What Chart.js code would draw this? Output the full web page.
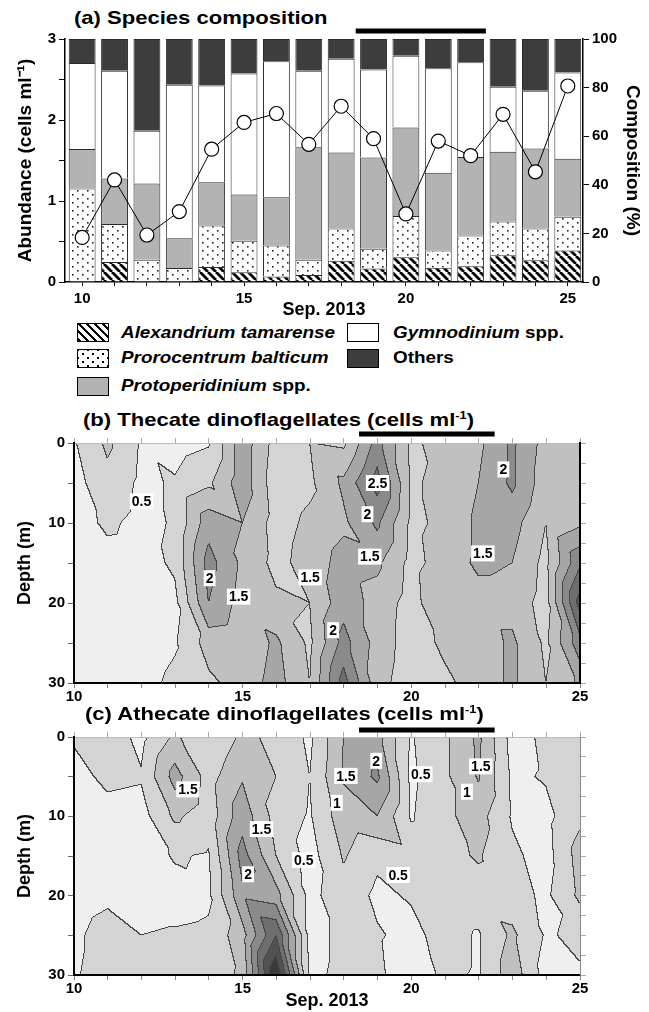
<!DOCTYPE html>
<html>
<head>
<meta charset="utf-8">
<script src="https://cdn.jsdelivr.net/npm/chart.js@4.4.1/dist/chart.umd.min.js"></script>
<style>
  body { margin:0; width:649px; height:1012px; position:relative; overflow:hidden; background:#fff; font-family:"Liberation Sans", Arial, sans-serif; color:#000; }
  canvas { position:absolute; left:0; }
  .title { position:absolute; font-size:19px; font-weight:bold; line-height:20px; white-space:nowrap; transform:scaleX(1.16); transform-origin:0 50%; }
  .title sup { font-size:11px; vertical-align:7px; line-height:0; }
  .sw { position:absolute; width:32px; height:19px; border:1.5px solid #000; box-sizing:border-box; }
  .lt { position:absolute; font-size:17px; font-weight:bold; line-height:20px; white-space:nowrap; transform:scaleX(1.11); transform-origin:0 50%; }
  .lt i { font-style:italic; }
  .hatch { background:repeating-linear-gradient(45deg, #000 0 2.6px, #fff 2.6px 5.66px); }
  .dots { background-color:#fff; background-image:radial-gradient(circle, #000 0.9px, transparent 1.3px), radial-gradient(circle, #000 0.9px, transparent 1.3px); background-size:10px 8px; background-position:0 0, 5px 4px; }
</style>
</head>
<body>
<div class="title" style="left:74px;top:8px">(a) Species composition</div>
<canvas id="chartA" width="649" height="321" style="top:0"></canvas>

<div class="sw hatch" style="left:77px;top:323px"></div>
<div class="lt" style="left:121px;top:323px"><i>Alexandrium tamarense</i></div>
<div class="sw" style="left:347px;top:323px;background:#fff"></div>
<div class="lt" style="left:393px;top:323px"><i>Gymnodinium</i> spp.</div>
<div class="sw dots" style="left:77px;top:349px"></div>
<div class="lt" style="left:121px;top:348px"><i>Prorocentrum balticum</i></div>
<div class="sw" style="left:347px;top:349px;background:#3d3d3d"></div>
<div class="lt" style="left:393px;top:348px">Others</div>
<div class="sw" style="left:77px;top:377px;background:#b3b3b3"></div>
<div class="lt" style="left:121px;top:376px"><i>Protoperidinium</i> spp.</div>

<div class="title" style="left:83px;top:410px">(b) Thecate dinoflagellates (cells ml<sup>-1</sup>)</div>
<canvas id="chartB" width="649" height="305" style="top:400px"></canvas>
<div class="title" style="left:85px;top:704px">(c) Athecate dinoflagellates (cells ml<sup>-1</sup>)</div>
<canvas id="chartC" width="649" height="312" style="top:700px"></canvas>

<script>
// ---- data ----
const days = [10, 11, 12, 13, 14, 15, 16, 17, 18, 19, 20, 21, 22, 23, 24, 25];

// composition (%) of each group
const alexandrium     = [0, 8.2, 0, 0, 6.2, 4.0, 2.3, 2.9, 8.7, 5.6, 10.2, 5.9, 6.5, 11.0, 8.9, 13.0];
const prorocentrum    = [38.5, 15.7, 9.2, 5.8, 17.1, 13.0, 12.7, 6.3, 13.3, 8.1, 17.0, 7.1, 12.6, 13.9, 13.1, 13.9];
const protoperidinium = [16.2, 18.7, 31.3, 12.2, 17.8, 19.0, 19.9, 46.3, 31.3, 37.5, 36.4, 32.0, 32.3, 28.7, 32.9, 23.8];
const gymnodinium     = [35.4, 44.3, 21.7, 63.2, 39.8, 49.8, 55.9, 31.4, 38.6, 36.3, 29.5, 43.0, 39.0, 26.7, 23.8, 35.5];
const others          = [9.9, 13.1, 37.8, 18.8, 19.1, 14.2, 9.2, 13.1, 8.1, 12.5, 6.9, 12.0, 9.6, 19.7, 21.3, 13.8];

// abundance (cells ml-1), line
const abundance = [0.55, 1.26, 0.58, 0.87, 1.64, 1.97, 2.08, 1.70, 2.17, 1.77, 0.84, 1.74, 1.56, 2.07, 1.36, 2.42];

// the black bar period above each panel
const periodStart = 18.45;
const periodEnd = 22.47;

// depth profiles: one row per day, values at these depths (m)
const depths = [0, 5, 10, 15, 20, 25, 30];
const thecate = [
  [0.45, 0.3, 0.25, 0.2, 0.2, 0.2, 0.2],
  [1.1, 0.85, 0.6, 0.3, 0.2, 0.2, 0.25],
  [0.45, 0.4, 0.35, 0.25, 0.2, 0.25, 0.35],
  [0.3, 0.55, 0.55, 0.6, 0.35, 0.45, 0.6],
  [0.45, 0.9, 1.8, 2.2, 2.0, 1.2, 0.9],
  [1.8, 1.8, 1.5, 1.4, 1.3, 1.1, 1.2],
  [0.8, 0.7, 0.8, 0.85, 1.1, 1.6, 1.7],
  [1.0, 0.9, 1.1, 1.2, 1.0, 0.9, 1.0],
  [0.9, 1.6, 1.4, 1.7, 1.8, 2.2, 2.7],
  [2.2, 2.7, 2.1, 1.6, 1.3, 1.3, 1.2],
  [0.9, 0.95, 0.9, 0.85, 0.8, 0.75, 0.7],
  [1.2, 1.1, 1.1, 1.2, 1.45, 1.1, 0.9],
  [1.4, 1.5, 1.6, 1.6, 1.3, 1.2, 1.2],
  [2.1, 2.1, 1.7, 1.5, 1.3, 1.6, 1.6],
  [1.3, 1.2, 1.0, 0.85, 0.8, 0.9, 1.0],
  [1.2, 1.4, 1.4, 2.4, 3.2, 2.3, 1.6]
];
const athecate = [
  [0.55, 0.35, 0.25, 0.2, 0.25, 0.4, 0.45],
  [0.8, 0.6, 0.35, 0.25, 0.4, 0.7, 0.7],
  [0.35, 0.55, 0.3, 0.25, 0.3, 0.5, 0.5],
  [1.1, 1.7, 1.1, 0.55, 0.3, 0.55, 0.6],
  [0.5, 0.8, 0.7, 0.45, 0.4, 0.6, 0.7],
  [1.1, 1.45, 1.8, 2.2, 1.9, 1.3, 1.1],
  [0.9, 1.0, 0.8, 1.0, 1.7, 3.0, 4.0],
  [0.4, 0.5, 0.45, 0.3, 0.35, 0.35, 0.4],
  [1.5, 1.55, 1.3, 1.05, 0.8, 0.6, 0.6],
  [1.7, 2.1, 1.5, 0.6, 0.4, 0.55, 0.6],
  [0.45, 0.4, 0.45, 0.8, 0.55, 0.35, 0.2],
  [0.9, 0.9, 0.9, 0.85, 0.8, 0.7, 0.6],
  [1.6, 1.55, 1.2, 1.05, 0.8, 0.45, 0.45],
  [0.3, 0.4, 0.45, 0.6, 0.7, 1.1, 1.3],
  [0.6, 0.55, 0.35, 0.3, 0.4, 0.45, 0.3],
  [0.7, 0.7, 0.9, 1.2, 1.1, 0.6, 0.45]
];

// contour labels (text, day, depth)
const thecateLabelText  = ['0.5', '2.5', '2', '1.5', '2', '1.5', '2', '1.5', '1.5', '2'];
const thecateLabelDay   = [12.0, 19.0, 18.7, 18.77, 22.73, 22.12, 14.02, 14.88, 17.0, 17.68];
const thecateLabelDepth = [7.3, 5.0, 8.9, 14.2, 3.3, 13.8, 16.9, 19.2, 16.8, 23.4];
const athecateLabelText  = ['1.5', '1.5', '2', '0.5', '1', '1.5', '2', '0.5', '0.5', '1.5', '1'];
const athecateLabelDay   = [13.38, 15.56, 15.16, 16.81, 17.79, 18.06, 18.96, 20.28, 19.61, 22.06, 21.65];
const athecateLabelDepth = [6.6, 11.6, 17.3, 15.5, 8.3, 4.9, 3.0, 4.7, 17.4, 3.7, 6.9];

const levelStep = 0.5;
const bandGreys = [239, 212, 192, 166, 138, 110, 82, 58, 38];

Chart.defaults.font.family = '"Liberation Sans", Arial, sans-serif';
Chart.defaults.color = '#000';

function makeHatch() {
  const c = document.createElement('canvas');
  c.width = 8; c.height = 8;
  const g = c.getContext('2d');
  g.fillStyle = '#fff'; g.fillRect(0, 0, 8, 8);
  g.strokeStyle = '#000'; g.lineWidth = 2.8;
  g.beginPath();
  for (const k of [-8, 0, 8]) { g.moveTo(k, 0); g.lineTo(k + 8, 8); }
  g.stroke();
  return g.createPattern(c, 'repeat');
}
function makeDots() {
  const c = document.createElement('canvas');
  c.width = 10; c.height = 8;
  const g = c.getContext('2d');
  g.fillStyle = '#fff'; g.fillRect(0, 0, 10, 8);
  g.fillStyle = '#222';
  g.fillRect(2, 2, 1.6, 1.6);
  g.fillRect(7, 6, 1.6, 1.6);
  return g.createPattern(c, 'repeat');
}

function locate(arr, v) {
  let i = 0;
  while (i < arr.length - 2 && v > arr[i + 1]) i++;
  let f = (v - arr[i]) / (arr[i + 1] - arr[i]);
  return [i, Math.max(0, Math.min(1, f))];
}
function sample(grid, d, z) {
  const [i, fx] = locate(days, d);
  const [j, fy] = locate(depths, z);
  const v00 = grid[i][j], v10 = grid[i + 1][j], v01 = grid[i][j + 1], v11 = grid[i + 1][j + 1];
  if (fx >= fy) return v00 + fx * (v10 - v00) + fy * (v11 - v10);
  return v00 + fy * (v01 - v00) + fx * (v11 - v01);
}

const periodBar = {
  id: 'periodBar',
  afterDraw(chart, args, opts) {
    const x = chart.scales.x, ctx = chart.ctx;
    const x0 = x.getPixelForValue(periodStart), x1 = x.getPixelForValue(periodEnd);
    ctx.save();
    ctx.fillStyle = '#000';
    ctx.fillRect(x0, opts.y - 2.5, x1 - x0, 5);
    ctx.restore();
  }
};

const contour = {
  id: 'contour',
  beforeDraw(chart, args, opts) {
    const {ctx, chartArea: a, scales} = chart;
    const w = Math.round(a.right - a.left), h = Math.round(a.bottom - a.top);
    const off = document.createElement('canvas');
    off.width = w; off.height = h;
    const octx = off.getContext('2d');
    const img = octx.createImageData(w, h);
    const band = new Uint8Array(w * h);
    for (let py = 0; py < h; py++) {
      const z = scales.y.getValueForPixel(a.top + py + 0.5);
      for (let px = 0; px < w; px++) {
        const d = scales.x.getValueForPixel(a.left + px + 0.5);
        const v = sample(opts.grid, d, z);
        band[py * w + px] = Math.max(0, Math.min(bandGreys.length - 1, Math.floor(v / levelStep)));
      }
    }
    for (let py = 0; py < h; py++) {
      for (let px = 0; px < w; px++) {
        const k = py * w + px, b = band[k];
        const edge = (px < w - 1 && band[k + 1] !== b) || (py < h - 1 && band[k + w] !== b);
        const g = edge ? 70 : bandGreys[b];
        img.data[k * 4] = g; img.data[k * 4 + 1] = g; img.data[k * 4 + 2] = g; img.data[k * 4 + 3] = 255;
      }
    }
    octx.putImageData(img, 0, 0);
    ctx.drawImage(off, Math.round(a.left), Math.round(a.top));
  },
  afterDatasetsDraw(chart, args, opts) {
    const {ctx, scales} = chart;
    ctx.save();
    ctx.font = 'bold 14px "Liberation Sans", Arial, sans-serif';
    ctx.textAlign = 'center';
    ctx.textBaseline = 'middle';
    opts.text.forEach((t, i) => {
      const px = scales.x.getPixelForValue(opts.day[i]);
      const py = scales.y.getPixelForValue(opts.depth[i]);
      const tw = ctx.measureText(t).width;
      ctx.fillStyle = '#fff';
      ctx.fillRect(px - tw / 2 - 2, py - 8, tw + 4, 16);
      ctx.fillStyle = '#000';
      ctx.fillText(t, px, py + 1);
    });
    ctx.restore();
  }
};

const tickFont = {size: 15, weight: 'bold'};
// one tick per sampling day, labels every 5 days
const dayTicks = s => { s.ticks = days.map(d => ({value: d})); };

// ---- (a) species composition ----
const hatch = makeHatch();
const dots = makeDots();
const pts = arr => days.map((d, i) => ({x: d, y: arr[i]}));
const barSet = (label, arr, fill) => ({
  label: label, data: pts(arr), backgroundColor: fill, borderColor: '#2a2a2a', borderWidth: 1,
  yAxisID: 'y1', barPercentage: 0.83, categoryPercentage: 1, order: 1
});

new Chart(document.getElementById('chartA'), {
  type: 'bar',
  data: {
    datasets: [
      barSet('Alexandrium tamarense', alexandrium, hatch),
      barSet('Prorocentrum balticum', prorocentrum, dots),
      barSet('Protoperidinium spp.', protoperidinium, '#b3b3b3'),
      barSet('Gymnodinium spp.', gymnodinium, '#ffffff'),
      barSet('Others', others, '#3d3d3d'),
      {type: 'line', label: 'Abundance', data: pts(abundance), yAxisID: 'y', order: 0,
       borderColor: '#000', borderWidth: 1, pointRadius: 7, pointBackgroundColor: '#fff',
       pointBorderColor: '#000', pointBorderWidth: 1.2}
    ]
  },
  options: {
    responsive: false, animation: false,
    layout: {padding: {top: 39, left: 0, right: 0, bottom: 0}},
    plugins: {legend: {display: false}, tooltip: {enabled: false}, periodBar: {y: 31}},
    scales: {
      x: {type: 'linear', min: 9.47, max: 25.47, stacked: true, offset: false,
          afterBuildTicks: dayTicks,
          ticks: {autoSkip: false, maxRotation: 0, padding: 4, font: tickFont,
                  callback: v => v % 5 === 0 ? v : ''},
          grid: {drawOnChartArea: false, offset: false, tickLength: 4, color: '#000'},
          border: {color: '#000', width: 1.5},
          title: {display: true, text: 'Sep. 2013', font: {size: 18, weight: 'bold'}, padding: 0},
          afterFit: s => { s.height = 39; }},
      y: {position: 'left', min: 0, max: 3,
          ticks: {stepSize: 0.5, font: tickFont, padding: 3, callback: v => Number.isInteger(v) ? v : ''},
          grid: {drawOnChartArea: false, tickLength: 6, color: '#000'},
          border: {color: '#000', width: 1.5},
          title: {display: true, text: 'Abundance (cells ml\u207B\u00B9)', font: {size: 19, weight: 'bold'}, padding: {top: 14}},
          afterFit: s => { s.width = 65; }},
      y1: {position: 'right', min: 0, max: 100, stacked: true,
          ticks: {stepSize: 20, font: tickFont, padding: 3},
          grid: {drawOnChartArea: false, tickLength: 6, color: '#000'},
          border: {color: '#000', width: 1.5},
          title: {display: true, text: 'Composition (%)', font: {size: 19, weight: 'bold'}, padding: {top: 5}},
          afterFit: s => { s.width = 66; }}
    }
  },
  plugins: [periodBar]
});

// ---- (b), (c) depth sections ----
function drawSection(id, grid, labelText, labelDay, labelDepth, opt) {
  new Chart(document.getElementById(id), {
    type: 'scatter',
    data: {datasets: [{data: labelDay.map((d, i) => ({x: d, y: labelDepth[i]})), pointRadius: 0}]},
    options: {
      responsive: false, animation: false,
      layout: {padding: {top: opt.padTop, left: 0, right: 0, bottom: 0}},
      plugins: {
        legend: {display: false}, tooltip: {enabled: false},
        periodBar: {y: opt.barY},
        contour: {grid: grid, text: labelText, day: labelDay, depth: labelDepth}
      },
      scales: {
        x: {type: 'linear', position: 'bottom', min: 10, max: 25,
            afterBuildTicks: dayTicks,
            ticks: {autoSkip: false, maxRotation: 0, padding: 0, font: tickFont,
                    callback: v => v % 5 === 0 ? v : ''},
            grid: {drawOnChartArea: false, tickLength: 5, color: '#888'},
            border: {color: '#000', width: 2},
            title: {display: opt.xTitle, text: 'Sep. 2013', font: {size: 18, weight: 'bold'}, padding: 0},
            afterFit: s => { s.height = opt.xHeight; }},
        x2: {type: 'linear', position: 'top', min: 10, max: 25,
            afterBuildTicks: dayTicks,
            ticks: {display: false},
            grid: {drawOnChartArea: false, tickLength: 5, color: '#aaa'},
            border: {color: '#bbb', width: 1},
            afterFit: s => { s.height = 6; }},
        y: {position: 'left', reverse: true, min: 0, max: 30,
            ticks: {stepSize: 2.5, font: tickFont, padding: 3, callback: v => v % 10 === 0 ? v : ''},
            grid: {drawOnChartArea: false, tickLength: 6, color: '#666'},
            border: {color: '#000', width: 2},
            title: {display: true, text: 'Depth (m)', font: {size: 18, weight: 'bold'}, padding: {top: 14}},
            afterFit: s => { s.width = 74; }},
        y2: {position: 'right', reverse: true, min: 0, max: 30,
            ticks: {stepSize: 2.5, display: false},
            grid: {drawOnChartArea: false, tickLength: 6, color: '#aaa'},
            border: {color: opt.rightBorder, width: opt.rightWidth},
            afterFit: s => { s.width = 69; }}
      }
    },
    plugins: [contour, periodBar]
  });
}

drawSection('chartB', thecate, thecateLabelText, thecateLabelDay, thecateLabelDepth,
  {padTop: 37, barY: 34, xHeight: 22, xTitle: false, rightBorder: '#000', rightWidth: 2});
drawSection('chartC', athecate, athecateLabelText, athecateLabelDay, athecateLabelDepth,
  {padTop: 31, barY: 30, xHeight: 37, xTitle: true, rightBorder: '#888', rightWidth: 1});
</script>
</body>
</html>
